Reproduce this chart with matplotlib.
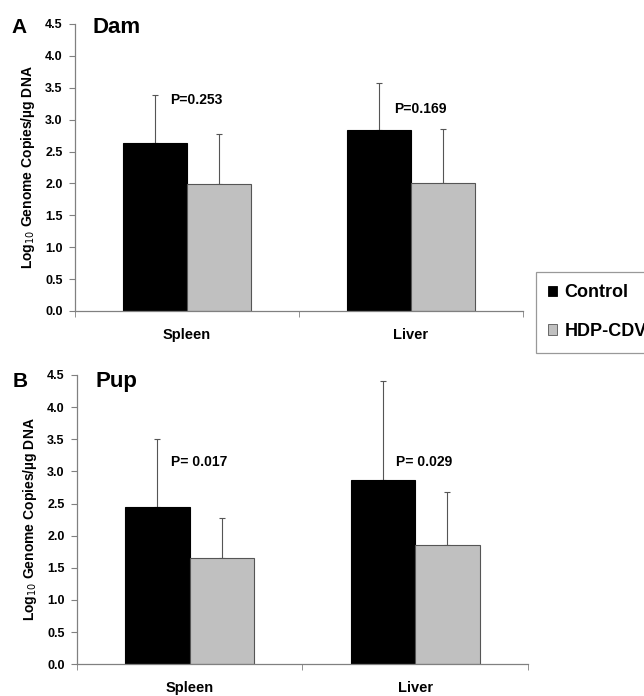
import matplotlib
matplotlib.use("Agg")
import matplotlib.pyplot as plt
from matplotlib.patches import Patch
import numpy as np

plt.rcParams['font.family'] = ['Liberation Sans', 'DejaVu Sans']

categories = ["Spleen", "Liver"]
series = ["Control", "HDP-CDV"]

dam_control = [2.63, 2.83]
dam_control_err_top = [3.39, 3.57]
dam_hdp = [1.99, 2.01]
dam_hdp_err_top = [2.78, 2.86]
dam_p = ["P=0.253", "P=0.169"]

pup_control = [2.45, 2.86]
pup_control_err_top = [3.50, 4.40]
pup_hdp = [1.65, 1.85]
pup_hdp_err_top = [2.28, 2.68]
pup_p = ["P= 0.017", "P= 0.029"]

yticks = [0.0, 0.5, 1.0, 1.5, 2.0, 2.5, 3.0, 3.5, 4.0, 4.5]

colors = ["#000000", "#c0c0c0"]
axis_gray = "#808080"

fig = plt.figure(figsize=(6.44, 6.96), dpi=100)

def draw_panel(ax, ctrl, ctrl_top, hdp, hdp_top, ptexts, title, letter, p_y, title_y, letter_y):
    x = np.arange(len(categories)) + 0.5
    w = 0.286
    ctrl_err = np.array(ctrl_top) - np.array(ctrl)
    hdp_err = np.array(hdp_top) - np.array(hdp)
    ax.bar(x - w / 2, ctrl, w, color=colors[0], edgecolor="#000000", linewidth=0.8, zorder=2)
    ax.bar(x + w / 2, hdp, w, color=colors[1], edgecolor="#555555", linewidth=0.8, zorder=2)
    ax.errorbar(x - w / 2, ctrl, yerr=[np.zeros_like(ctrl_err), ctrl_err], fmt="none",
                ecolor="#555555", elinewidth=0.8, capsize=2, capthick=0.8, zorder=1)
    ax.errorbar(x + w / 2, hdp, yerr=[np.zeros_like(hdp_err), hdp_err], fmt="none",
                ecolor="#555555", elinewidth=0.8, capsize=2, capthick=0.8, zorder=1)
    ax.set_xlim(0, 2)
    ax.set_ylim(0, 4.5)
    ax.set_yticks(yticks)
    ax.set_yticklabels([f"{v:.1f}" for v in yticks], fontsize=9, fontweight="bold")
    ax.set_xticks(x)
    ax.set_xticklabels(categories, fontsize=10.5, fontweight="bold")
    ax.set_xticks([0, 1, 2], minor=True)
    ax.tick_params(axis="x", which="major", length=0, pad=12)
    ax.tick_params(axis="x", which="minor", length=4, color=axis_gray, direction="out")
    ax.tick_params(axis="y", length=4, color=axis_gray, direction="out", pad=5)
    for s in ["top", "right"]:
        ax.spines[s].set_visible(False)
    for s in ["left", "bottom"]:
        ax.spines[s].set_color(axis_gray)
        ax.spines[s].set_linewidth(0.9)
    ax.set_ylabel("Log$_{10}$ Genome Copies/µg DNA", fontsize=10, fontweight="bold", labelpad=6)
    for xi, pt, py in zip(x, ptexts, p_y):
        ax.text(xi + 0.04, py, pt, ha="center", va="center", fontsize=10, fontweight="bold")
    ax.text(0.08, title_y, title, ha="left", va="baseline", fontsize=16, fontweight="bold")
    ax.text(-0.125, letter_y, letter, transform=ax.transAxes, ha="center", va="baseline",
            fontsize=15, fontweight="bold", clip_on=False)

axA = fig.add_axes([0.1165, 0.5532, 0.6957, 0.4124])
draw_panel(axA, dam_control, dam_control_err_top, dam_hdp, dam_hdp_err_top, dam_p,
           "Dam", "A", [3.30, 3.16], 4.354, 0.969)

axB = fig.add_axes([0.1196, 0.0456, 0.700, 0.4157])
draw_panel(axB, pup_control, pup_control_err_top, pup_hdp, pup_hdp_err_top, pup_p,
           "Pup", "B", [3.15, 3.15], 4.317, 0.958)

handles = [Patch(facecolor=colors[0], edgecolor="#000000", linewidth=0.6),
           Patch(facecolor=colors[1], edgecolor="#555555", linewidth=0.6)]
leg = fig.legend(handles, series, loc="upper left", bbox_to_anchor=(535.7 / 644, 1 - 271.7 / 696),
                 frameon=True, fancybox=False, edgecolor=axis_gray,
                 prop={"weight": "bold", "size": 13}, handlelength=0.5, handleheight=0.5,
                 handletextpad=0.4, labelspacing=1.2, borderpad=0.7, borderaxespad=0)
leg.get_frame().set_linewidth(0.9)

fig.savefig("out.png", dpi=100)
